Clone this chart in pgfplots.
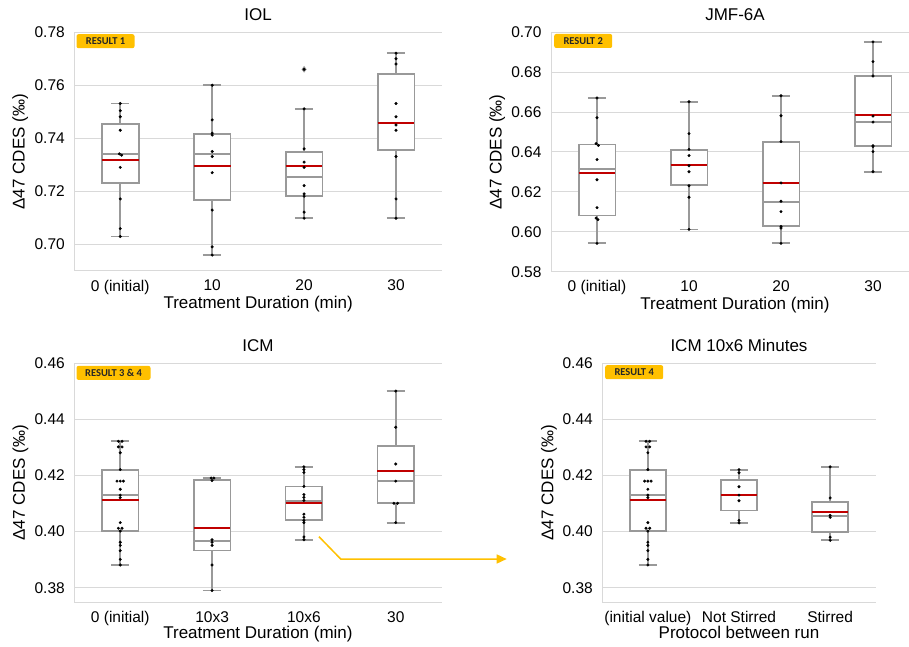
\documentclass[border=0pt]{standalone}
\usepackage{fontspec}
\setmainfont{Liberation Sans}
\newfontfamily\badgefont{Carlito}
\usepackage{pgfplots}
\pgfplotsset{compat=1.18}
\usepgfplotslibrary{statistics}
\usetikzlibrary{arrows.meta}

\definecolor{boxgray}{HTML}{999999}
\definecolor{gridgray}{HTML}{D9D9D9}
\definecolor{meanred}{HTML}{C00000}
\definecolor{badgeyel}{HTML}{FFC000}

\pgfplotsset{
  panel/.style={
    scale only axis, anchor=north west,
    axis x line*=bottom, axis y line*=left,
    axis line style={gridgray, line width=1pt, -},
    ymajorgrids, grid style={gridgray, line width=1pt},
    major tick length=0pt, tick style={draw=none},
    xtick={0,1,2,3},
    ticklabel style={font=\fontsize{15.5}{18}\selectfont},
    xticklabel style={yshift=-5.5pt},
    yticklabel style={xshift=-6pt, /pgf/number format/.cd, fixed, fixed zerofill, precision=2},
    /pgf/number format/assume math mode=true,
    label style={font=\fontsize{17}{20}\selectfont},
    title style={font=\fontsize{17}{20}\selectfont, at={(0.5,1)}, anchor=south, yshift=2pt},
    ylabel={Δ47 CDES (‰)},
    boxplot/draw direction=y,
    boxplot/box extend=0.4,
    boxplot/whisker extend=0.2,
    boxplot/every box/.style={line width=1.8pt},
    boxplot/every whisker/.style={line width=1.8pt},
    boxplot/every median/.style={line width=1.8pt},
  },
  bx/.style={boxplot prepared={#1}, draw=boxgray, fill=white, line width=1.8pt, solid},
  means/.style={meanred, line width=2pt, unbounded coords=jump},
  dots/.style={only marks, mark=*, mark size=1.3pt, black},
}
\tikzset{
  badge/.style={fill=badgeyel, rounded corners=2pt, minimum height=14pt, inner sep=0pt,
    anchor=north west, font=\badgefont\bfseries\fontsize{10.5}{12}\selectfont, text=black!85},
}

\begin{document}
\begin{tikzpicture}

% ---------- IOL ----------
\begin{axis}[panel, at={(74.3pt,613.5pt)}, width=367.7pt, height=238.5pt,
  xmin=-0.5, xmax=3.5, ymin=0.690, ymax=0.78,
  ytick={0.70,0.72,0.74,0.76,0.78},
  xticklabels={0 (initial),10,20,30},
  title={IOL}, xlabel={Treatment Duration (min)},
  xlabel style={at={(axis description cs:0.5,0)}, anchor=north, yshift=-22pt},
  ylabel style={at={(axis description cs:-0.1159,0.5)}, anchor=south},
]
\addplot[bx={draw position=0, lower whisker=0.7030, lower quartile=0.7232, median=0.7341, upper quartile=0.7456, upper whisker=0.7532}] coordinates {};
\addplot[bx={draw position=1, lower whisker=0.6960, lower quartile=0.7167, median=0.7341, upper quartile=0.7418, upper whisker=0.7601}] coordinates {};
\addplot[bx={draw position=2, lower whisker=0.7099, lower quartile=0.7184, median=0.7256, upper quartile=0.7349, upper whisker=0.7512}] coordinates {};
\addplot[bx={draw position=3, lower whisker=0.7099, lower quartile=0.7357, median=0.7458, upper quartile=0.7643, upper whisker=0.7722}] coordinates {};
\addplot[only marks, mark=diamond*, mark size=3pt, boxgray] coordinates {(2,0.7661)};
\addplot[means] coordinates {(-0.2,0.7320) (0.2,0.7320) (0.5,nan) (0.8,0.7295) (1.2,0.7295) (1.5,nan)
  (1.8,0.7297) (2.2,0.7297) (2.5,nan) (2.8,0.7460) (3.2,0.7460)};
\addplot[dots] coordinates {
  (0,0.7532) (0,0.7505) (0,0.7482) (0,0.7431) (-0.01,0.7342) (0.015,0.7337) (0,0.7291) (0,0.7172) (0,0.7060) (0,0.7030)
  (1,0.7601) (1,0.7470) (1,0.7420) (1,0.7413) (1,0.7351) (1,0.7332) (1,0.7271) (1,0.7130) (1,0.6991) (1,0.6960)
  (2,0.7661) (2,0.7512) (2,0.7361) (2,0.7311) (2,0.7291) (2,0.7222) (2,0.7191) (2,0.7182) (2,0.7122) (2,0.7099)
  (3,0.7722) (3,0.7701) (3,0.7681) (3,0.7532) (3,0.7482) (3,0.7451) (3,0.7431) (3,0.7332) (3,0.7172) (3,0.7099)};
\node[badge, minimum width=58pt] at ([xshift=2pt,yshift=-1.5pt]rel axis cs:0,1) {RESULT 1};
\end{axis}

% ---------- JMF-6A ----------
\begin{axis}[panel, at={(551pt,613.7pt)}, width=368pt, height=239.4pt,
  xmin=-0.5, xmax=3.5, ymin=0.58, ymax=0.70,
  ytick={0.58,0.60,0.62,0.64,0.66,0.68,0.70},
  xticklabels={0 (initial),10,20,30},
  title={JMF-6A}, xlabel={Treatment Duration (min)},
  xlabel style={at={(axis description cs:0.5,0)}, anchor=north, yshift=-22pt},
  ylabel style={at={(axis description cs:-0.115,0.5)}, anchor=south},
]
\addplot[bx={draw position=0, lower whisker=0.5942, lower quartile=0.6082, median=0.6313, upper quartile=0.6438, upper whisker=0.6671}] coordinates {};
\addplot[bx={draw position=1, lower whisker=0.6012, lower quartile=0.6233, median=0.6333, upper quartile=0.6410, upper whisker=0.6652}] coordinates {};
\addplot[bx={draw position=2, lower whisker=0.5942, lower quartile=0.6031, median=0.6151, upper quartile=0.6450, upper whisker=0.6682}] coordinates {};
\addplot[bx={draw position=3, lower whisker=0.6301, lower quartile=0.6432, median=0.6552, upper quartile=0.6781, upper whisker=0.6952}] coordinates {};
\addplot[means] coordinates {(-0.2,0.6295) (0.2,0.6295) (0.5,nan) (0.8,0.6333) (1.2,0.6333) (1.5,nan)
  (1.8,0.6246) (2.2,0.6246) (2.5,nan) (2.8,0.6587) (3.2,0.6587)};
\addplot[dots] coordinates {
  (0,0.6671) (0,0.6572) (-0.01,0.6442) (0.015,0.6433) (0,0.6362) (0,0.6261) (0,0.6121) (-0.01,0.6069) (0.01,0.6061) (0,0.5942)
  (1,0.6652) (1,0.6492) (1,0.6413) (1,0.6382) (1,0.6331) (1,0.6301) (1,0.6231) (1,0.6173) (1,0.6012)
  (2,0.6682) (2,0.6582) (2,0.6452) (2,0.6245) (2,0.6153) (2,0.6101) (2,0.6027) (2,0.6019) (2,0.5942)
  (3,0.6952) (3,0.6853) (3,0.6781) (3,0.6580) (3,0.6550) (3,0.6432) (3,0.6427) (3,0.6402) (3,0.6301)};
\node[badge, minimum width=58pt] at ([xshift=3pt,yshift=-1.5pt]rel axis cs:0,1) {RESULT 2};
\end{axis}

% ---------- ICM ----------
\begin{axis}[panel, at={(74.3pt,282.7pt)}, width=367.4pt, height=239pt,
  xmin=-0.5, xmax=3.5, ymin=0.3748, ymax=0.46,
  ytick={0.38,0.40,0.42,0.44,0.46},
  xticklabels={0 (initial),10x3,10x6,30},
  title={ICM}, xlabel={Treatment Duration (min)},
  xlabel style={at={(axis description cs:0.5,0)}, anchor=north, yshift=-20.5pt},
  ylabel style={at={(axis description cs:-0.115,0.5)}, anchor=south},
]
\addplot[bx={draw position=0, lower whisker=0.3881, lower quartile=0.4001, median=0.4130, upper quartile=0.4220, upper whisker=0.4322}] coordinates {};
\addplot[bx={draw position=1, lower whisker=0.3790, lower quartile=0.3933, median=0.3966, upper quartile=0.4183, upper whisker=0.4191}] coordinates {};
\addplot[bx={draw position=2, lower whisker=0.3971, lower quartile=0.4040, median=0.4109, upper quartile=0.4161, upper whisker=0.4231}] coordinates {};
\addplot[bx={draw position=3, lower whisker=0.4032, lower quartile=0.4101, median=0.4180, upper quartile=0.4306, upper whisker=0.4501}] coordinates {};
\addplot[means] coordinates {(-0.2,0.4111) (0.2,0.4111) (0.5,nan) (0.8,0.4014) (1.2,0.4014) (1.5,nan)
  (1.8,0.4101) (2.2,0.4101) (2.5,nan) (2.8,0.4216) (3.2,0.4216)};
\addplot[dots] coordinates {
  (-0.02,0.4322) (0.02,0.4322) (-0.02,0.4302) (0.02,0.4302) (0,0.4281) (0,0.4221) (-0.035,0.4180) (0,0.4180) (0.035,0.4180)
  (0,0.4151) (0,0.4130) (0,0.4121) (0,0.4032) (-0.02,0.4012) (0.02,0.4012) (0,0.4002) (0,0.3962) (0,0.3951) (0,0.3932) (0,0.3901) (0,0.3881)
  (0.99,0.4191) (1.02,0.4191) (1,0.4182) (1,0.3971) (1,0.3962) (1,0.3951) (1,0.3881) (1,0.3790)
  (2,0.4231) (2,0.4221) (2,0.4211) (2,0.4161) (2,0.4132) (2,0.4122) (2,0.4111) (2,0.4062) (2,0.4051) (2,0.4040) (2,0.4032) (2,0.3981) (2,0.3971)
  (3,0.4501) (3,0.4372) (3,0.4241) (3,0.4180) (2.98,0.4101) (3.02,0.4101) (3,0.4032)};
\node[badge, minimum width=74pt] at ([xshift=2pt,yshift=-2.4pt]rel axis cs:0,1) {RESULT 3 \& 4};
\end{axis}

% ---------- ICM 10x6 Minutes ----------
\begin{axis}[panel, at={(602.3pt,282.7pt)}, width=273.4pt, height=239pt,
  xmin=-0.5, xmax=2.5, ymin=0.3748, ymax=0.46,
  xtick={0,1,2},
  ytick={0.38,0.40,0.42,0.44,0.46},
  xticklabels={(initial value),Not Stirred,Stirred},
  title={ICM 10x6 Minutes}, xlabel={Protocol between run},
  xlabel style={at={(axis description cs:0.5,0)}, anchor=north, yshift=-20.5pt},
  ylabel style={at={(axis description cs:-0.153,0.5)}, anchor=south},
]
\addplot[bx={draw position=0, lower whisker=0.3881, lower quartile=0.4001, median=0.4130, upper quartile=0.4220, upper whisker=0.4322}] coordinates {};
\addplot[bx={draw position=1, lower whisker=0.4031, lower quartile=0.4075, median=0.4129, upper quartile=0.4185, upper whisker=0.4221}] coordinates {};
\addplot[bx={draw position=2, lower whisker=0.3969, lower quartile=0.3999, median=0.4056, upper quartile=0.4105, upper whisker=0.4231}] coordinates {};
\addplot[means] coordinates {(-0.2,0.4111) (0.2,0.4111) (0.5,nan) (0.8,0.4129) (1.2,0.4129) (1.5,nan)
  (1.8,0.4069) (2.2,0.4069)};
\addplot[dots] coordinates {
  (-0.02,0.4322) (0.02,0.4322) (-0.02,0.4302) (0.02,0.4302) (0,0.4281) (0,0.4221) (-0.035,0.4180) (0,0.4180) (0.035,0.4180)
  (0,0.4151) (0,0.4130) (0,0.4121) (0,0.4032) (-0.02,0.4012) (0.02,0.4012) (0,0.4002) (0,0.3962) (0,0.3951) (0,0.3932) (0,0.3901) (0,0.3881)
  (1,0.4221) (1,0.4210) (1,0.4160) (1,0.4130) (1,0.4110) (1,0.4040) (1,0.4031)
  (2,0.4231) (2,0.4120) (2,0.4058) (2,0.4051) (2,0.3980) (2,0.3969)};
\node[badge, minimum width=58pt] at ([xshift=2.7pt,yshift=-1.7pt]rel axis cs:0,1) {RESULT 4};
\end{axis}

% arrow from the 10x6 box to the right panel
\draw[badgeyel, line width=1.5pt, -{Triangle[length=10pt, width=9pt]}]
  (319pt,109.3pt) -- (340.7pt,87pt) -- (506.7pt,87pt);

\pgfresetboundingbox
\path[use as bounding box] (0pt,0pt) rectangle (909pt,646pt);
\end{tikzpicture}
\end{document}
